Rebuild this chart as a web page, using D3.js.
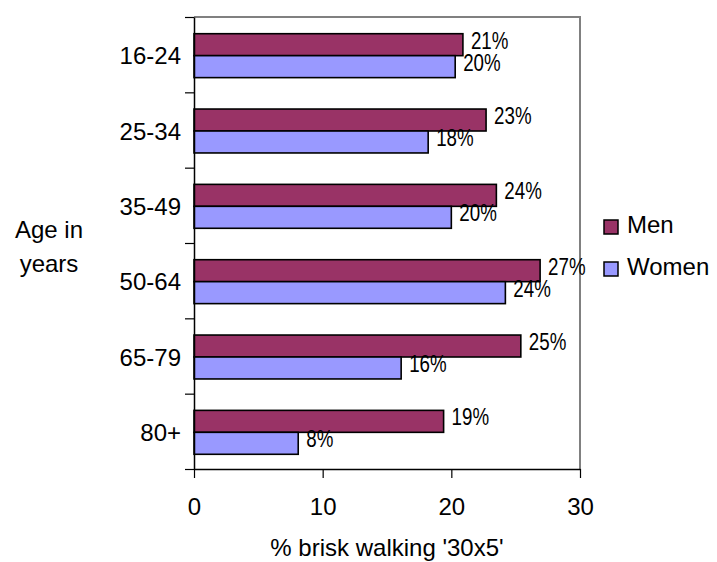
<!DOCTYPE html>
<html>
<head>
<meta charset="utf-8">
<script src="https://cdn.jsdelivr.net/npm/d3@7/dist/d3.min.js"></script>
<style>
  html, body { margin: 0; padding: 0; background: #fff; }
  svg { display: block; }
  text { font-family: Arial, "Liberation Sans", sans-serif; fill: #000; }
</style>
</head>
<body>
<svg id="chart" width="717" height="562"></svg>
<script>
// Share of adults meeting the brisk walking '30x5' level, by age group and sex
const categories = ["16-24", "25-34", "35-49", "50-64", "65-79", "80+"];
const seriesNames = ["Men", "Women"];
const menValues = [20.9, 22.7, 23.5, 26.9, 25.4, 19.4];
const womenValues = [20.3, 18.2, 20.0, 24.2, 16.1, 8.1];
const xTickValues = [0, 10, 20, 30];
const seriesColors = ["#993366", "#9999FF"];

const svg = d3.select("#chart");
const plot = { left: 194, right: 580, top: 17, bottom: 469 };

const x = d3.scaleLinear().domain([0, 30]).range([plot.left, plot.right]);
const y0 = d3.scaleBand().domain(categories).range([plot.top, plot.bottom])
  .paddingInner(0.417).paddingOuter(0.2085);
const y1 = d3.scaleBand().domain(seriesNames).range([0, y0.bandwidth()]);
const color = d3.scaleOrdinal().domain(seriesNames).range(seriesColors);
const yBounds = d3.scaleLinear().domain([0, categories.length]).range([plot.top, plot.bottom]);

const rows = categories.map((c, i) => ({
  category: c,
  values: [
    { series: "Men", value: menValues[i] },
    { series: "Women", value: womenValues[i] }
  ]
}));

// plot area frame (top and right edges)
svg.append("path")
  .attr("d", `M${plot.left},${plot.top}H${plot.right}V${plot.bottom}`)
  .attr("fill", "none").attr("stroke", "#808080").attr("stroke-width", 2);

// bars
const groups = svg.append("g").selectAll("g").data(rows).join("g")
  .attr("transform", d => `translate(0,${y0(d.category) + 1})`);

groups.selectAll("rect").data(d => d.values).join("rect")
  .attr("x", x(0))
  .attr("y", d => y1(d.series))
  .attr("width", d => x(d.value) - x(0))
  .attr("height", y1.bandwidth())
  .attr("fill", d => color(d.series))
  .attr("stroke", "#000").attr("stroke-width", 1.6);

// value labels, set in a condensed width
groups.selectAll("text").data(d => d.values).join("text")
  .attr("x", d => x(d.value) + 8)
  .attr("y", d => y1(d.series) + y1.bandwidth() / 2 + 4)
  .attr("font-size", 24)
  .text(d => Math.round(d.value) + "%")
  .each(function () {
    const w = this.getComputedTextLength();
    d3.select(this).attr("textLength", w * 0.78).attr("lengthAdjust", "spacingAndGlyphs");
  });

// y axis: boundary ticks
const yAxis = svg.append("g").attr("transform", `translate(${plot.left},0)`)
  .call(d3.axisLeft(yBounds).tickValues(d3.range(categories.length + 1))
    .tickFormat("").tickSize(9).tickSizeOuter(0));
yAxis.select(".domain").attr("stroke", "#000").attr("stroke-width", 1.5);
yAxis.selectAll(".tick line").attr("stroke", "#000").attr("stroke-width", 1.2);

// y axis: category labels
const yLabels = svg.append("g").attr("transform", `translate(${plot.left},1)`)
  .call(d3.axisLeft(y0).tickSize(0).tickPadding(13));
yLabels.select(".domain").remove();
yLabels.selectAll("text")
  .attr("font-size", 24).attr("font-family", "Arial, 'Liberation Sans', sans-serif")
  .attr("dy", "0.36em");

// x axis
const xAxis = svg.append("g").attr("transform", `translate(0,${plot.bottom})`)
  .call(d3.axisBottom(x).tickValues(xTickValues).tickSize(9).tickSizeOuter(0));
xAxis.select(".domain").attr("stroke", "#000").attr("stroke-width", 1.5);
xAxis.selectAll(".tick line").attr("stroke", "#000").attr("stroke-width", 1.2);
xAxis.selectAll("text")
  .attr("font-size", 24).attr("font-family", "Arial, 'Liberation Sans', sans-serif")
  .attr("y", 46).attr("dy", 0);

// axis titles
svg.append("text")
  .attr("x", (plot.left + plot.right) / 2).attr("y", 556)
  .attr("text-anchor", "middle").attr("font-size", 24)
  .text("% brisk walking '30x5'");

const yTitle = svg.append("text").attr("text-anchor", "middle").attr("font-size", 24);
yTitle.append("tspan").attr("x", 49).attr("y", 238).text("Age in");
yTitle.append("tspan").attr("x", 49).attr("y", 272).text("years");

// legend
const legend = svg.append("g").selectAll("g").data(seriesNames).join("g")
  .attr("transform", (d, i) => `translate(604,${220 + i * 42})`);
legend.append("rect")
  .attr("width", 14).attr("height", 14)
  .attr("fill", d => color(d)).attr("stroke", "#000").attr("stroke-width", 1.5);
legend.append("text")
  .attr("x", 23).attr("y", 12.5).attr("font-size", 24)
  .text(d => d);
</script>
</body>
</html>
